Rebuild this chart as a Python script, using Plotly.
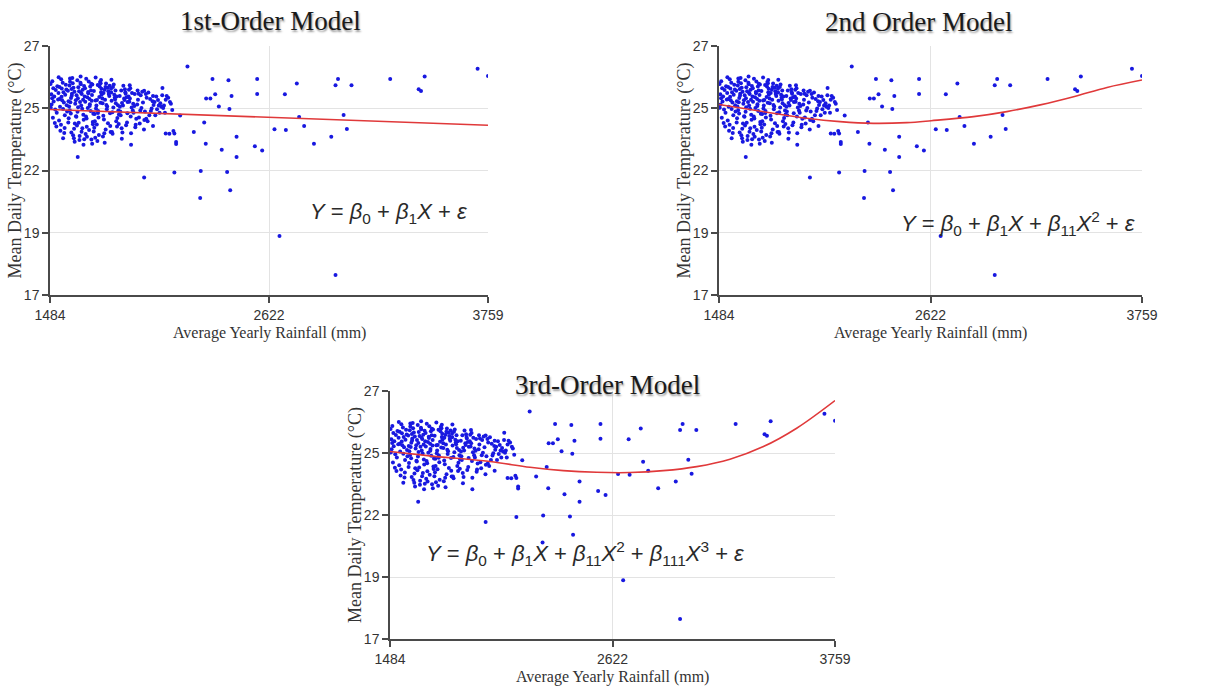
import plotly.graph_objects as go

# ---------------- data ----------------
# sparse (outlying) observations: rainfall (mm), temperature (°C)
sparse_x = [2198, 2328, 2411, 2560, 2560, 2427, 2295, 2317, 2342, 2361, 2416, 2285, 2231,
            2293, 2376, 2453, 2453, 2548, 2586, 2267, 2404, 2264, 2420, 2160, 2130, 2139,
            2139, 2125, 2085, 2104, 2130, 1973, 1973, 2068, 2019, 1905, 1628, 1588, 1749,
            2676, 2967, 2650, 2709, 2704, 2766, 2778, 2804, 2855, 2945, 2967, 2980, 3009,
            3026, 3050, 3251, 3399, 3411, 3430, 3705, 3759]
sparse_y = [26.34, 25.82, 25.77, 25.82, 25.20, 25.11, 25.01, 25.01, 25.18, 24.67, 24.57, 24.01, 23.61,
            23.12, 22.87, 23.41, 22.56, 23.01, 22.84, 21.98, 21.94, 20.85, 21.17, 24.30, 23.55, 23.19,
            23.11, 23.65, 23.55, 23.54, 21.92, 21.71, 25.33, 25.45, 23.86, 23.08, 22.56, 25.84, 25.78,
            19.26, 17.64, 23.72, 23.69, 25.18, 25.63, 24.23, 23.86, 23.12, 23.41, 25.56, 25.82, 24.32,
            23.73, 25.56, 25.82, 25.39, 25.32, 25.93, 26.25, 25.95]

cluster_x = [
    1487, 1503, 1491, 1519, 1496, 1526, 1509, 1488, 1514, 1499, 1522, 1506, 1492, 1517, 1528, 1501, 1511, 1495,
    1533, 1561, 1542, 1571, 1538, 1554, 1547, 1566, 1531, 1558, 1544, 1573, 1550, 1536, 1563, 1541, 1569, 1556, 1545, 1534, 1560, 1552,
    1577, 1604, 1588, 1615, 1581, 1597, 1609, 1585, 1618, 1592, 1600, 1579, 1611, 1595, 1583, 1606, 1590, 1613, 1598, 1587, 1602, 1619, 1593, 1580, 1608, 1596,
    1622, 1648, 1631, 1657, 1626, 1640, 1662, 1635, 1651, 1624, 1644, 1659, 1629, 1638, 1654, 1646, 1621, 1661, 1633, 1649, 1627, 1642, 1656, 1637, 1664, 1630, 1652, 1645,
    1667, 1693, 1676, 1702, 1671, 1685, 1707, 1680, 1697, 1669, 1689, 1704, 1674, 1683, 1699, 1691, 1666, 1706, 1678, 1695, 1672, 1687, 1701, 1682, 1709, 1675, 1698, 1690,
    1712, 1738, 1721, 1747, 1716, 1730, 1752, 1725, 1742, 1714, 1734, 1749, 1719, 1728, 1744, 1736, 1711, 1751, 1723, 1740, 1717, 1732, 1746, 1727, 1754, 1733,
    1757, 1783, 1766, 1792, 1761, 1775, 1797, 1770, 1787, 1759, 1779, 1794, 1764, 1773, 1789, 1781, 1756, 1796, 1768, 1785, 1762, 1777, 1799, 1772,
    1802, 1828, 1811, 1837, 1806, 1820, 1842, 1815, 1832, 1804, 1824, 1839, 1809, 1818, 1834, 1826, 1801, 1841, 1813, 1830, 1808, 1822,
    1847, 1873, 1856, 1882, 1851, 1865, 1887, 1860, 1877, 1849, 1869, 1884, 1854, 1863, 1879, 1871, 1846, 1886, 1858, 1875,
    1892, 1918, 1901, 1927, 1896, 1910, 1932, 1905, 1922, 1894, 1914, 1929, 1899, 1908, 1924, 1916, 1903,
    1937, 1963, 1946, 1972, 1941, 1955, 1977, 1950, 1967, 1939, 1959, 1974, 1944, 1953,
    1982, 2008, 1991, 2017, 1986, 2000, 2022, 1995, 2012, 1984, 2004, 2019,
    2027, 2053, 2036, 2062, 2031, 2045, 2067, 2040, 2057, 2049,
    2072, 2098, 2081, 2107, 2076, 2090, 2119, 2085, 2112,
    1529, 1643, 1721, 1803, 1898, 1658, 1768, 1703, 1857, 1612, 1552]
cluster_y = [
    25.61, 24.88, 25.18, 24.41, 25.73, 24.97, 23.98, 24.62, 25.36, 24.20, 25.52, 25.09, 24.76, 23.84, 25.24, 25.44, 24.55, 25.02,
    25.49, 24.31, 25.81, 24.73, 23.66, 25.27, 24.93, 25.58, 24.09, 23.57, 25.08, 24.46, 25.67, 24.66, 25.16, 23.91, 25.38, 24.84, 25.43, 24.99, 23.78, 24.57,
    25.33, 23.47, 25.71, 24.79, 24.18, 25.12, 23.74, 25.55, 24.93, 24.38, 25.86, 24.01, 25.29, 23.59, 24.67, 25.46, 24.85, 23.96, 25.21, 24.52, 25.64, 24.27, 25.03, 24.89, 23.35, 25.40,
    25.14, 23.62, 25.48, 24.33, 25.77, 24.86, 23.31, 25.31, 24.58, 23.88, 25.60, 24.12, 25.02, 23.44, 25.37, 24.71, 24.24, 25.53, 23.99, 25.19, 24.45, 25.66, 24.96, 23.27, 25.09, 24.64, 23.76, 25.25,
    24.87, 25.51, 23.41, 25.15, 24.26, 25.72, 23.93, 24.61, 25.34, 23.52, 24.99, 25.59, 24.17, 25.23, 23.29, 24.77, 25.44, 24.03, 25.06, 24.48, 25.83, 23.69, 24.91, 25.28, 24.37, 23.83, 25.62, 24.69,
    25.32, 23.48, 24.92, 25.64, 24.36, 23.23, 25.16, 24.71, 25.51, 23.79, 24.49, 25.27, 23.37, 24.94, 25.70, 24.21, 23.63, 25.41, 24.59, 25.07, 24.06, 25.57, 24.83, 23.92, 25.22, 24.40,
    24.81, 25.46, 23.56, 25.11, 24.29, 25.63, 23.86, 24.96, 25.31, 23.42, 24.56, 25.54, 24.13, 23.71, 25.19, 24.67, 25.01, 24.39, 25.37, 23.97, 25.24, 24.74, 23.61, 25.49,
    25.26, 24.06, 25.49, 24.73, 23.61, 25.04, 24.34, 25.59, 23.84, 24.91, 25.34, 24.51, 23.54, 25.16, 24.19, 24.81, 25.41, 23.94, 24.63, 25.09, 24.43, 24.97,
    24.66, 25.39, 23.76, 25.06, 24.31, 25.54, 24.86, 23.59, 25.21, 24.46, 25.01, 24.01, 25.34, 24.71, 23.89, 24.94, 25.11, 24.39, 24.82, 25.27,
    25.09, 24.41, 25.44, 23.81, 24.87, 25.24, 24.16, 23.56, 24.69, 25.37, 24.51, 23.91, 25.01, 24.63, 25.19, 24.79, 24.26,
    24.76, 25.29, 24.21, 23.71, 24.96, 25.14, 24.46, 23.96, 24.84, 25.34, 24.61, 24.11, 25.21, 24.51,
    25.19, 24.49, 24.06, 24.89, 25.04, 24.31, 24.74, 25.26, 24.59, 24.16, 24.99, 25.11,
    24.86, 24.41, 25.09, 24.66, 24.31, 24.94, 25.14, 24.56, 24.81, 24.71,
    24.61, 25.04, 24.41, 24.86, 24.71, 25.11, 24.53, 24.96, 24.79,
    25.90, 25.93, 25.88, 25.79, 25.56, 23.08, 23.16, 23.12, 23.33, 23.20, 23.35]

# fitted model curves
fit1_x = [1484, 3759]
fit1_y = [24.55, 23.89]
fit2_x = [1484, 1776, 1956, 2135, 2315, 2494, 2625, 2853, 3032, 3212, 3391, 3571, 3759]
fit2_y = [24.76, 24.39, 24.18, 24.04, 23.97, 24.00, 24.08, 24.25, 24.46, 24.74, 25.08, 25.47, 25.78]
fit3_x = [1484, 1688, 1995, 2200, 2370, 2541, 2711, 2881, 3052, 3222, 3393, 3563, 3759]
fit3_y = [24.66, 24.48, 24.24, 24.00, 23.86, 23.79, 23.78, 23.86, 24.03, 24.34, 24.87, 25.64, 26.80]

x_ticks = [1484, 2621.5, 3759]
y_ticks = [16.8, 19.4, 22.0, 24.6, 27.2]

titles = ["1st-Order Model", "2nd Order Model", "3rd-Order Model"]
equations = [
    "<i>Y</i> = <i>β</i><sub>0</sub> + <i>β</i><sub>1</sub><i>X</i> + <i>ε</i>",
    "<i>Y</i> = <i>β</i><sub>0</sub> + <i>β</i><sub>1</sub><i>X</i> + <i>β</i><sub>11</sub><i>X</i><sup>2</sup> + <i>ε</i>",
    "<i>Y</i> = <i>β</i><sub>0</sub> + <i>β</i><sub>1</sub><i>X</i> + <i>β</i><sub>11</sub><i>X</i><sup>2</sup> + <i>β</i><sub>111</sub><i>X</i><sup>3</sup> + <i>ε</i>",
]
x_title = "Average Yearly Rainfall (mm)"
y_title = "Mean Daily Temperature (°C)"

# ---------------- layout geometry (pixels) ----------------
W, H = 1217, 688
panels = [  # left, right, top, bottom of plot area
    (50, 488, 46, 295),
    (719, 1142, 46, 295),
    (390, 835, 391, 639),
]
title_pos = [(270, 21), (918, 22), (607, 385)]
eq_pos = [(388, 213), (1018, 223), (585, 553)]

fits = [(fit1_x, fit1_y), (fit2_x, fit2_y), (fit3_x, fit3_y)]

fig = go.Figure()
serif = "Liberation Serif"
sans = "Liberation Sans"

annotations = []
for i, (l, r, t, b) in enumerate(panels):
    sfx = "" if i == 0 else str(i + 1)
    xa, ya = "x" + sfx, "y" + sfx
    fig.add_trace(go.Scatter(x=sparse_x + cluster_x, y=sparse_y + cluster_y, mode="markers",
                             marker=dict(color="#1818e0", size=4, line=dict(width=0)),
                             xaxis=xa, yaxis=ya, showlegend=False, hoverinfo="skip"))
    fx, fy = fits[i]
    fig.add_trace(go.Scatter(x=fx, y=fy, mode="lines", line=dict(color="#e0393a", width=1.6, shape="spline"),
                             xaxis=xa, yaxis=ya, showlegend=False, hoverinfo="skip"))
    axcommon = dict(showline=True, linecolor="#4a4a4a", linewidth=1.5, ticks="outside", ticklen=6,
                    tickcolor="#4a4a4a", tickwidth=1.5, showgrid=True, gridcolor="#e3e3e3", gridwidth=1,
                    zeroline=False, tickformat=".0f", automargin=False,
                    tickfont=dict(family=sans, size=14, color="#333333"))
    fig.update_layout(**{
        "xaxis" + sfx: dict(domain=[l / W, r / W], range=[1484, 3759], tickvals=x_ticks,
                            anchor=ya, **axcommon),
        "yaxis" + sfx: dict(domain=[1 - b / H, 1 - t / H], range=[16.8, 27.2], tickvals=y_ticks,
                            anchor=xa, **axcommon),
    })
    tx, ty = title_pos[i]
    annotations.append(dict(text=titles[i], x=tx / W, y=1 - ty / H, xref="paper", yref="paper",
                            xanchor="center", yanchor="middle", showarrow=False,
                            font=dict(family=serif, size=27, color="#1a1a1a",
                                      shadow="1px 2px 2px #9a9a9a")))
    ex, ey = eq_pos[i]
    annotations.append(dict(text=equations[i], x=ex / W, y=1 - ey / H, xref="paper", yref="paper",
                            xanchor="center", yanchor="middle", showarrow=False,
                            font=dict(family=sans, size=22, color="#2a2a2a")))
    annotations.append(dict(text=x_title, x=(l + r) / 2 / W, y=1 - (b + 38) / H, xref="paper",
                            yref="paper", xanchor="center", yanchor="middle", showarrow=False,
                            font=dict(family=serif, size=16, color="#333333")))
    annotations.append(dict(text=y_title, x=(l - 35) / W, y=1 - (t + b) / 2 / H, xref="paper",
                            yref="paper", xanchor="center", yanchor="middle", showarrow=False,
                            textangle=-90, font=dict(family=serif, size=18, color="#333333")))

fig.update_layout(width=W, height=H, margin=dict(l=0, r=0, t=0, b=0, pad=0, autoexpand=False),
                  paper_bgcolor="white", plot_bgcolor="white", annotations=annotations)

fig.write_html("out.html", config={"displayModeBar": False},
               post_script="document.body.style.margin='0';")
